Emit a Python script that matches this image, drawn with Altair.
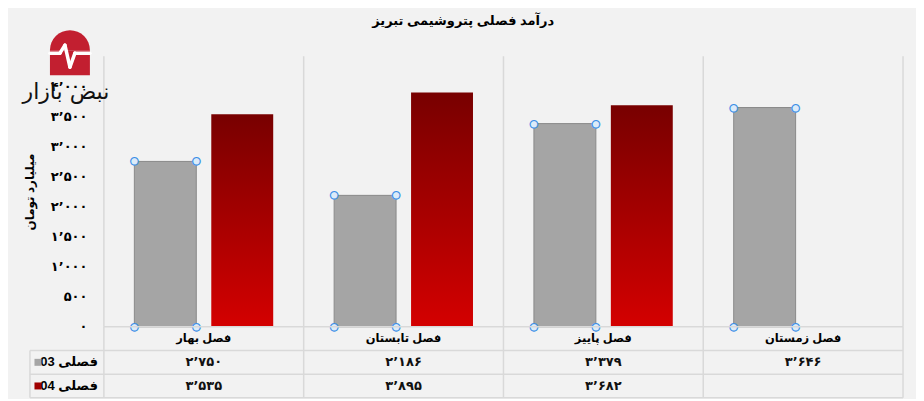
import altair as alt
import pandas as pd

# ---------------- data ----------------
seasons = ["فصل بهار", "فصل تابستان", "فصل پاییز", "فصل زمستان"]
series_keys = ["03", "04"]
series_names = ["فصلی 03", "فصلی 04"]
values_03 = [2750, 2186, 3379, 3646]
values_04 = [3535, 3895, 3682, None]
y_ticks = [0, 500, 1000, 1500, 2000, 2500, 3000, 3500, 4000, 4500]
y_tick_labels = ["۰", "۵۰۰", "۱٬۰۰۰", "۱٬۵۰۰", "۲٬۰۰۰", "۲٬۵۰۰",
                 "۳٬۰۰۰", "۳٬۵۰۰", "۴٬۰۰۰", "۴٬۵۰۰"]
title_text = "درآمد فصلی پتروشیمی تبریز"
y_title = "میلیارد تومان"
logo_text = "نبض بازار"

FA = str.maketrans("0123456789", "۰۱۲۳۴۵۶۷۸۹")


def fa(n):
    return f"{int(n):,}".replace(",", "٬").translate(FA)


rows = []
for s, a, b in zip(seasons, values_03, values_04):
    rows.append({"season": s, "series": "03", "value": a, "label": fa(a)})
    if b is not None:
        rows.append({"season": s, "series": "04", "value": b, "label": fa(b)})
df = pd.DataFrame(rows)
seasons_df = pd.DataFrame({"season": seasons, "row": "cat"})
header_df = pd.DataFrame({"row": series_keys, "name": series_names})

# ---------------- styles ----------------
FONT = "Liberation Sans, DejaVu Sans"
GRID = "#d9d9d9"
GRAY = "#a5a5a5"
RED_TOP = "#780000"
RED_BOT = "#d40000"
W, H = 800, 271

xscale = alt.Scale(domain=seasons, paddingInner=0, paddingOuter=0)
offscale = alt.Scale(domain=series_keys, paddingInner=0.195, paddingOuter=0.396)
yscale = alt.Scale(domain=[0, 4500], nice=False)

label_expr = "[" + ",".join(f"'{t}'" for t in y_tick_labels) + "][round(datum.value/500)]"
YAXIS = alt.Axis(values=y_ticks, labelExpr=label_expr, grid=False,
                 domain=False, ticks=False, labelPadding=17,
                 labelOverlap=False, labelFontSize=13,
                 labelFontWeight="bold", labelColor="#000",
                 labelFont=FONT,
                 title=y_title, titleFont=FONT, titleFontSize=12,
                 titleFontWeight="bold", titleColor="#000",
                 titlePadding=14)
YV = alt.Y("value:Q", scale=yscale, axis=YAXIS)

X = alt.X("season:N", scale=xscale, axis=None, sort=seasons)
XO = alt.XOffset("series:N", scale=offscale, sort=series_keys)

vlines = alt.Chart(seasons_df).mark_rule(color=GRID, strokeWidth=1.5).encode(
    x=alt.X("season:N", scale=xscale, axis=None, sort=seasons, bandPosition=0))
vline_last = alt.Chart(seasons_df).transform_filter(
    alt.datum.season == seasons[-1]).mark_rule(color=GRID, strokeWidth=1.5).encode(
    x=alt.X("season:N", scale=xscale, axis=None, sort=seasons, bandPosition=1))

base = alt.Chart(df)
gray_bars = base.transform_filter(alt.datum.series == "03").mark_bar(
    fill=GRAY, stroke="#8a8a8a", strokeWidth=1).encode(x=X, xOffset=XO, y=YV)
red_bars = base.transform_filter(alt.datum.series == "04").mark_bar(
    color=alt.LinearGradient(
        gradient="linear",
        stops=[alt.GradientStop(color=RED_TOP, offset=0),
               alt.GradientStop(color=RED_BOT, offset=1)],
        x1=0, x2=0, y1=0, y2=1)).encode(x=X, xOffset=XO, y=YV)

handle_style = dict(text="●", fontSize=10, fill="#dcebf9", stroke="#3a8ee6",
                    strokeWidth=1.1, align="center", baseline="middle",
                    font="DejaVu Sans")
handles = []
for dx in (-31, 31):
    handles.append(base.transform_filter(alt.datum.series == "03").mark_text(
        dx=dx, **handle_style).encode(x=X, xOffset=XO, y=YV))
    handles.append(base.transform_filter(alt.datum.series == "03").mark_text(
        dx=dx, **handle_style).encode(x=X, xOffset=XO,
                                     y=alt.datum(0, scale=yscale, axis=YAXIS)))

# ---- logo (decoration) ----
one = alt.Data(values=[{"k": 1}])
LOGO_RED = "#c21f30"
logo_arc = alt.Chart(one).mark_arc(color=LOGO_RED, theta=4.7124, theta2=7.8540,
                                   outerRadius=20).encode(
    x=alt.value(-34), y=alt.value(-6))
logo_rect = alt.Chart(one).mark_rect(color=LOGO_RED).encode(
    x=alt.value(-54), x2=alt.value(-14), y=alt.value(-6), y2=alt.value(19))
pulse_pts = [(-54, -3), (-44, -3), (-39, -11), (-34, 11), (-29, -3), (-14, -3)]
logo_pulse = []
for (x1, y1), (x2, y2) in zip(pulse_pts[:-1], pulse_pts[1:]):
    logo_pulse.append(alt.Chart(one).mark_rule(color="white", strokeWidth=3.5,
                                               strokeCap="round").encode(
        x=alt.value(x1), x2=alt.value(x2), y=alt.value(y1), y2=alt.value(y2)))
logo_txt = alt.Chart(one).mark_text(text=logo_text, fontSize=22, font="DejaVu Sans",
                                    color="#111", align="center",
                                    baseline="middle").encode(
    x=alt.value(-38), y=alt.value(36))

top = alt.layer(vlines, vline_last, gray_bars, red_bars, *handles,
                logo_arc, logo_rect, *logo_pulse, logo_txt).properties(
    width=W, height=H)

# ---------------- table ----------------
ROWS = ["cat", "03", "04"]
yrow = alt.Scale(domain=ROWS, paddingInner=0, paddingOuter=0)
TH = 71
rowh = TH / 3

tvlines = alt.Chart(seasons_df).mark_rule(color=GRID, strokeWidth=1.5).encode(
    x=alt.X("season:N", scale=xscale, axis=None, sort=seasons, bandPosition=0))
tvline_last = alt.Chart(seasons_df).transform_filter(
    alt.datum.season == seasons[-1]).mark_rule(color=GRID, strokeWidth=1.5).encode(
    x=alt.X("season:N", scale=xscale, axis=None, sort=seasons, bandPosition=1))
left_border = alt.Chart(one).mark_rule(color=GRID, strokeWidth=1.5).encode(
    x=alt.value(-74), y=alt.value(rowh), y2=alt.value(TH))

cat_line = alt.Chart(seasons_df.head(1)).mark_rule(color=GRID, strokeWidth=1.5).encode(
    y=alt.Y("row:N", scale=yrow, axis=None, bandPosition=0),
    x=alt.value(0), x2=alt.value(W))
row_lines = alt.Chart(header_df).mark_rule(color=GRID, strokeWidth=1.5).encode(
    y=alt.Y("row:N", scale=yrow, axis=None, bandPosition=0),
    x=alt.value(-74), x2=alt.value(W))
bottom_line = alt.Chart(header_df).transform_filter(
    alt.datum.row == "04").mark_rule(color=GRID, strokeWidth=1.5).encode(
    y=alt.Y("row:N", scale=yrow, axis=None, bandPosition=1),
    x=alt.value(-74), x2=alt.value(W))

cat_text = alt.Chart(seasons_df).mark_text(
    font=FONT, fontSize=11.5, fontWeight="bold", color="#000", baseline="middle").encode(
    x=X, y=alt.Y("row:N", scale=yrow, axis=None), text="season:N")
val_text = alt.Chart(df).mark_text(
    font=FONT, fontSize=13, fontWeight="bold", color="#111", baseline="middle").encode(
    x=X, y=alt.Y("series:N", scale=yrow, axis=None), text="label:N")
head_text = alt.Chart(header_df).mark_text(
    font=FONT, fontSize=13, fontWeight="bold", color="#000", align="right",
    baseline="middle").encode(
    x=alt.value(-6), y=alt.Y("row:N", scale=yrow, axis=None), text="name:N")
head_sq = alt.Chart(header_df).mark_square(size=49, opacity=1).encode(
    x=alt.value(-66), y=alt.Y("row:N", scale=yrow, axis=None),
    color=alt.Color("row:N", scale=alt.Scale(domain=series_keys,
                                             range=[GRAY, "#a00000"]),
                    legend=None))

table = alt.layer(tvlines, tvline_last, left_border, cat_line, row_lines,
                  bottom_line, cat_text, val_text, head_text, head_sq).properties(
    width=W, height=TH)

chart = alt.vconcat(top, table, spacing=0, bounds="flush").properties(
    title=alt.TitleParams(title_text, font=FONT, fontSize=13, fontWeight="bold",
                          color="#000", anchor="middle", offset=2),
    background="#f2f2f2",
    padding={"left": 14, "top": 7, "right": 12, "bottom": 0},
).configure_view(stroke=None).configure_axis(labelOverlap=False)

chart.save("out.html", embed_options={"renderer": "svg", "actions": False})
